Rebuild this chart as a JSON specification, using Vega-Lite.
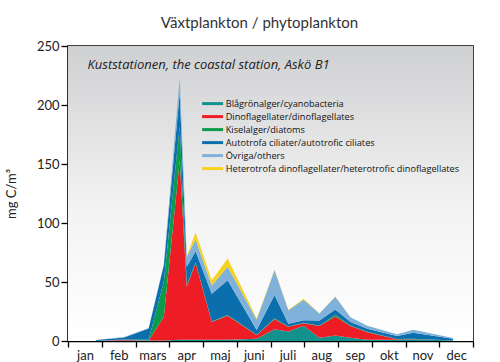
{
  "$schema": "https://vega.github.io/schema/vega-lite/v6.json",
  "width": 405,
  "height": 295,
  "autosize": {"type": "none"},
  "padding": {"left": 68, "top": 46, "right": 27, "bottom": 21},
  "background": "white",
  "title": {
    "text": "Växtplankton / phytoplankton",
    "fontSize": 15,
    "fontWeight": "normal",
    "font": "Lato",
    "color": "#333333",
    "anchor": "middle",
    "dx": -11,
    "offset": 9
  },
  "config": {
    "view": {"stroke": "black", "strokeWidth": 1.5},
    "font": "Lato",
    "axis": {"grid": false, "domainColor": "black", "domainWidth": 1.5, "tickColor": "black", "tickWidth": 1.3, "labelColor": "#222222", "labelFont": "Lato", "titleFont": "Lato"},
    "axisX": {"labelOverlap": false, "labelFlush": false, "labelBound": false, "labelOffset": 17, "tickSize": 6, "labelFontSize": 13, "labelPadding": 2, "ticks": true}
  },
  "datasets": {
    "plankton": [
      {"m": 0.83, "Blågrönalger/cyanobacteria": 0.3, "Dinoflagellater/dinoflagellates": 0, "Kiselalger/diatoms": 0, "Autotrofa ciliater/autotrofic ciliates": 0.5, "Övriga/others": 0, "Heterotrofa dinoflagellater/heterotrofic dinoflagellates": 0},
      {"m": 1.66, "Blågrönalger/cyanobacteria": 0.5, "Dinoflagellater/dinoflagellates": 0.5, "Kiselalger/diatoms": 0.3, "Autotrofa ciliater/autotrofic ciliates": 1.7, "Övriga/others": 0.3, "Heterotrofa dinoflagellater/heterotrofic dinoflagellates": 0},
      {"m": 2.39, "Blågrönalger/cyanobacteria": 0.5, "Dinoflagellater/dinoflagellates": 0, "Kiselalger/diatoms": 0.5, "Autotrofa ciliater/autotrofic ciliates": 9.5, "Övriga/others": 0.5, "Heterotrofa dinoflagellater/heterotrofic dinoflagellates": 0},
      {"m": 2.84, "Blågrönalger/cyanobacteria": 0.5, "Dinoflagellater/dinoflagellates": 20, "Kiselalger/diatoms": 30, "Autotrofa ciliater/autotrofic ciliates": 14, "Övriga/others": 0.5, "Heterotrofa dinoflagellater/heterotrofic dinoflagellates": 0},
      {"m": 3.31, "Blågrönalger/cyanobacteria": 1, "Dinoflagellater/dinoflagellates": 152, "Kiselalger/diatoms": 29, "Autotrofa ciliater/autotrofic ciliates": 28, "Övriga/others": 13.5, "Heterotrofa dinoflagellater/heterotrofic dinoflagellates": 0.5},
      {"m": 3.52, "Blågrönalger/cyanobacteria": 1, "Dinoflagellater/dinoflagellates": 45, "Kiselalger/diatoms": 1, "Autotrofa ciliater/autotrofic ciliates": 16, "Övriga/others": 8.5, "Heterotrofa dinoflagellater/heterotrofic dinoflagellates": 0.5},
      {"m": 3.78, "Blågrönalger/cyanobacteria": 1, "Dinoflagellater/dinoflagellates": 65, "Kiselalger/diatoms": 0.5, "Autotrofa ciliater/autotrofic ciliates": 9.5, "Övriga/others": 10, "Heterotrofa dinoflagellater/heterotrofic dinoflagellates": 6},
      {"m": 4.26, "Blågrönalger/cyanobacteria": 1, "Dinoflagellater/dinoflagellates": 15, "Kiselalger/diatoms": 0.5, "Autotrofa ciliater/autotrofic ciliates": 23.5, "Övriga/others": 7, "Heterotrofa dinoflagellater/heterotrofic dinoflagellates": 4.5},
      {"m": 4.73, "Blågrönalger/cyanobacteria": 1, "Dinoflagellater/dinoflagellates": 20.5, "Kiselalger/diatoms": 0.5, "Autotrofa ciliater/autotrofic ciliates": 29.5, "Övriga/others": 11.5, "Heterotrofa dinoflagellater/heterotrofic dinoflagellates": 7},
      {"m": 5.59, "Blågrönalger/cyanobacteria": 2, "Dinoflagellater/dinoflagellates": 3, "Kiselalger/diatoms": 0.3, "Autotrofa ciliater/autotrofic ciliates": 4, "Övriga/others": 9, "Heterotrofa dinoflagellater/heterotrofic dinoflagellates": 0.7},
      {"m": 6.12, "Blågrönalger/cyanobacteria": 10, "Dinoflagellater/dinoflagellates": 8.5, "Kiselalger/diatoms": 0.5, "Autotrofa ciliater/autotrofic ciliates": 20, "Övriga/others": 21, "Heterotrofa dinoflagellater/heterotrofic dinoflagellates": 0.5},
      {"m": 6.53, "Blågrönalger/cyanobacteria": 8, "Dinoflagellater/dinoflagellates": 4, "Kiselalger/diatoms": 0.3, "Autotrofa ciliater/autotrofic ciliates": 2.3, "Övriga/others": 11.5, "Heterotrofa dinoflagellater/heterotrofic dinoflagellates": 0.4},
      {"m": 6.98, "Blågrönalger/cyanobacteria": 13, "Dinoflagellater/dinoflagellates": 2, "Kiselalger/diatoms": 0.5, "Autotrofa ciliater/autotrofic ciliates": 2, "Övriga/others": 17.5, "Heterotrofa dinoflagellater/heterotrofic dinoflagellates": 0.8},
      {"m": 7.45, "Blågrönalger/cyanobacteria": 2.7, "Dinoflagellater/dinoflagellates": 10, "Kiselalger/diatoms": 0.3, "Autotrofa ciliater/autotrofic ciliates": 4.4, "Övriga/others": 6, "Heterotrofa dinoflagellater/heterotrofic dinoflagellates": 0.2},
      {"m": 7.92, "Blågrönalger/cyanobacteria": 4.7, "Dinoflagellater/dinoflagellates": 16, "Kiselalger/diatoms": 1.5, "Autotrofa ciliater/autotrofic ciliates": 4.5, "Övriga/others": 10.8, "Heterotrofa dinoflagellater/heterotrofic dinoflagellates": 0.2},
      {"m": 8.37, "Blågrönalger/cyanobacteria": 2.7, "Dinoflagellater/dinoflagellates": 10, "Kiselalger/diatoms": 0.5, "Autotrofa ciliater/autotrofic ciliates": 3, "Övriga/others": 4, "Heterotrofa dinoflagellater/heterotrofic dinoflagellates": 0},
      {"m": 8.87, "Blågrönalger/cyanobacteria": 1, "Dinoflagellater/dinoflagellates": 6.5, "Kiselalger/diatoms": 0.3, "Autotrofa ciliater/autotrofic ciliates": 2.5, "Övriga/others": 2.7, "Heterotrofa dinoflagellater/heterotrofic dinoflagellates": 0},
      {"m": 9.75, "Blågrönalger/cyanobacteria": 1, "Dinoflagellater/dinoflagellates": 0.5, "Kiselalger/diatoms": 0.2, "Autotrofa ciliater/autotrofic ciliates": 2.5, "Övriga/others": 1.5, "Heterotrofa dinoflagellater/heterotrofic dinoflagellates": 0},
      {"m": 10.23, "Blågrönalger/cyanobacteria": 1.5, "Dinoflagellater/dinoflagellates": 0.3, "Kiselalger/diatoms": 0.2, "Autotrofa ciliater/autotrofic ciliates": 5, "Övriga/others": 2.5, "Heterotrofa dinoflagellater/heterotrofic dinoflagellates": 0},
      {"m": 11.41, "Blågrönalger/cyanobacteria": 0.5, "Dinoflagellater/dinoflagellates": 0, "Kiselalger/diatoms": 0, "Autotrofa ciliater/autotrofic ciliates": 1.5, "Övriga/others": 0.5, "Heterotrofa dinoflagellater/heterotrofic dinoflagellates": 0}
    ],
    "groups": [
      {"group": "Blågrönalger/cyanobacteria", "rank": 1},
      {"group": "Dinoflagellater/dinoflagellates", "rank": 2},
      {"group": "Kiselalger/diatoms", "rank": 3},
      {"group": "Autotrofa ciliater/autotrofic ciliates", "rank": 4},
      {"group": "Övriga/others", "rank": 5},
      {"group": "Heterotrofa dinoflagellater/heterotrofic dinoflagellates", "rank": 6}
    ],
    "note": [
      {"m": 0.58, "v": 234, "label": "Kuststationen, the coastal station, Askö B1"}
    ]
  },
  "layer": [
    {
      "data": {"name": "note"},
      "mark": {
        "type": "rect",
        "color": {
          "gradient": "linear",
          "x1": 0, "y1": 0, "x2": 0, "y2": 1,
          "stops": [
            {"offset": 0, "color": "#cfd0d2"},
            {"offset": 0.55, "color": "#f3f3f3"},
            {"offset": 1, "color": "#ffffff"}
          ]
        }
      },
      "encoding": {
        "x": {
          "datum": 0,
          "type": "quantitative",
          "scale": {"domain": [0, 12], "nice": false, "zero": false},
          "axis": {
            "title": null,
            "tickCount": 12,
            "tickMinStep": 1,
            "labelOverlap": false,
            "labelExpr": "datum.value < 12 ? ['jan','feb','mars','apr','maj','juni','juli','aug','sep','okt','nov','dec'][datum.value] : ''"
          }
        },
        "x2": {"datum": 12},
        "y": {"datum": 0, "type": "quantitative"},
        "y2": {"datum": 250}
      }
    },
    {
      "data": {"name": "plankton"},
      "transform": [
        {"fold": ["Blågrönalger/cyanobacteria", "Dinoflagellater/dinoflagellates", "Kiselalger/diatoms", "Autotrofa ciliater/autotrofic ciliates", "Övriga/others", "Heterotrofa dinoflagellater/heterotrofic dinoflagellates"], "as": ["group", "value"]},
        {"lookup": "group", "from": {"data": {"name": "groups"}, "key": "group", "fields": ["rank"]}}
      ],
      "mark": {"type": "area", "interpolate": "linear"},
      "encoding": {
        "x": {
          "field": "m",
          "type": "quantitative",
          "axis": {
            "title": null,
            "tickCount": 12,
            "tickMinStep": 1,
            "labelOverlap": false,
            "labelExpr": "datum.value < 12 ? ['jan','feb','mars','apr','maj','juni','juli','aug','sep','okt','nov','dec'][datum.value] : ''"
          }
        },
        "y": {
          "field": "value",
          "type": "quantitative",
          "stack": "zero",
          "scale": {"domain": [0, 250], "nice": false},
          "axis": {
            "title": "mg C/m³",
            "titleFontSize": 13,
            "titleFontWeight": "normal",
            "titleColor": "#222222",
            "titlePadding": 18,
            "values": [0, 25, 50, 75, 100, 125, 150, 175, 200, 225, 250],
            "labelExpr": "datum.value % 50 === 0 ? datum.label : ''",
            "tickSize": 7,
            "labelFontSize": 13,
            "labelPadding": 2
          }
        },
        "order": {"field": "rank", "type": "quantitative", "sort": "ascending"},
        "color": {
          "field": "group",
          "type": "nominal",
          "scale": {
            "domain": ["Blågrönalger/cyanobacteria", "Dinoflagellater/dinoflagellates", "Kiselalger/diatoms", "Autotrofa ciliater/autotrofic ciliates", "Övriga/others", "Heterotrofa dinoflagellater/heterotrofic dinoflagellates"],
            "range": ["#13918c", "#ee1d25", "#0e9a4b", "#0b6fae", "#7fb1da", "#f6d21f"]
          },
          "legend": {
            "title": null,
            "orient": "none",
            "legendX": 140,
            "legendY": 53,
            "padding": 0,
            "symbolType": "M-4.2,-0.6H4.2V0.6H-4.2Z",
            "symbolSize": 25,
            "symbolStrokeWidth": 0,
            "labelFont": "Open Sans",
            "labelFontSize": 9.2,
            "labelColor": "#111111",
            "labelOffset": 8.5,
            "labelLimit": 400,
            "rowPadding": 3
          }
        }
      }
    },
    {
      "data": {"name": "note"},
      "mark": {"type": "text", "align": "left", "baseline": "middle", "fontStyle": "italic", "fontSize": 13, "font": "Open Sans", "color": "#222222"},
      "encoding": {
        "x": {"field": "m", "type": "quantitative"},
        "y": {"field": "v", "type": "quantitative"},
        "text": {"field": "label"}
      }
    }
  ]
}
